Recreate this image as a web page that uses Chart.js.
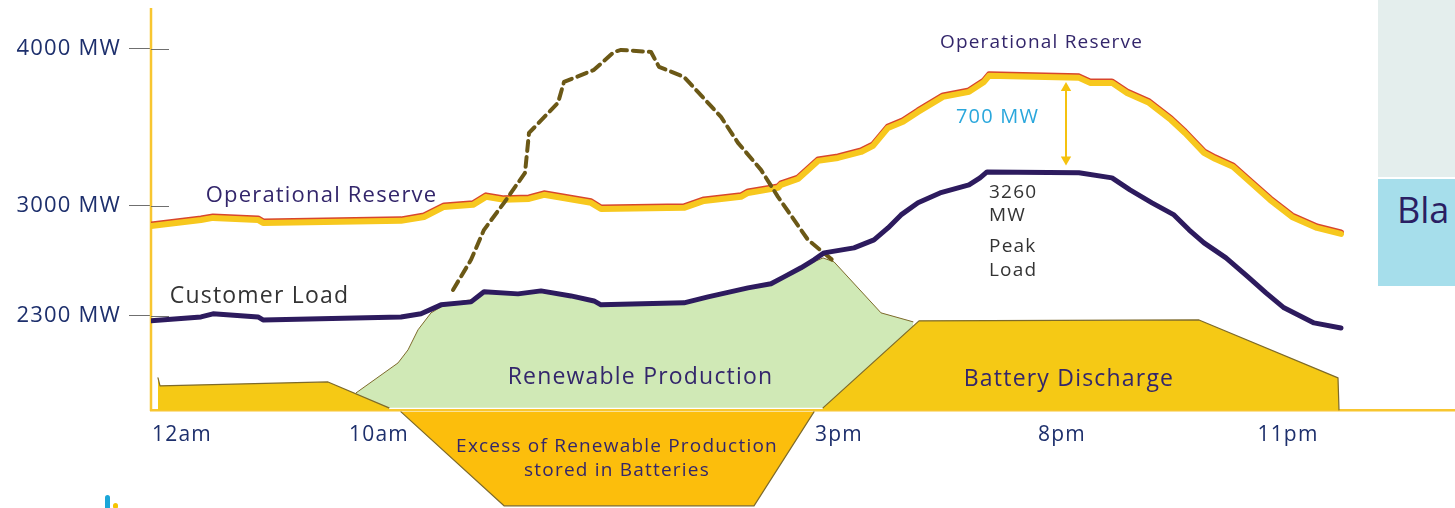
<!DOCTYPE html>
<html>
<head>
<meta charset="utf-8">
<title>Customer load, renewables and batteries</title>
<script src="https://cdn.jsdelivr.net/npm/chart.js@4.4.1/dist/chart.umd.min.js"></script>
<style>
  html, body { margin: 0; padding: 0; background: #fff; }
  #wrap { position: relative; width: 1455px; height: 508px; overflow: hidden; }
  #chart { position: absolute; left: 0; top: 0; }
  .side { position: absolute; left: 1378px; width: 77px; }
  .side span { position: absolute; left: 19px; top: 6px; font: 36px 'Open Sans', sans-serif; color: #2a1f63; }
  .logo { position: absolute; border-radius: 3px; }
</style>
</head>
<body>
<div id="wrap">
  <canvas id="chart" width="1455" height="508"></canvas>
  <div class="side" style="top:0;height:177px;background:#e4eeed"></div>
  <div class="side" style="top:179px;height:107px;background:#a6deeb"><span>Bla</span></div>
  <div class="logo" style="left:105px;top:495px;width:5px;height:16px;background:#1ba6d8"></div>
  <div class="logo" style="left:113px;top:503px;width:5px;height:6px;background:#f5c400"></div>
</div>
<script>
/* ---- data: t = position along the day (drawing units), values in MW ---- */
var timeLabels = ["12am", "10am", "3pm", "8pm", "11pm"];
var timeTicks = [3.1, 22.8, 68.8, 91.1, 113.7];
var mwTicks = [4000, 3000, 2300];
var BASELINE = 1700;

var reserve = [[0, 2872], [5, 2910], [6.2, 2923], [10.7, 2910], [11.2, 2891], [25, 2904], [27.3, 2929],
  [29.3, 2993], [32.2, 3006], [33.5, 3057], [35.3, 3038], [37.8, 3044], [39.3, 3070], [44, 3019],
  [45, 2980], [53.3, 2987], [55.3, 3031], [59, 3057], [59.7, 3082], [62.7, 3114], [63, 3133],
  [64.7, 3171], [66.7, 3286], [68.7, 3305], [71, 3343], [72.2, 3382], [73.7, 3496], [75.2, 3535],
  [76.7, 3598], [79.2, 3694], [81.8, 3726], [83.3, 3789], [83.8, 3828], [92.8, 3815], [93.9, 3783],
  [96.1, 3783], [97.6, 3719], [99.8, 3656], [102, 3547], [103.4, 3464], [105.3, 3337], [106.4, 3299],
  [108.2, 3248], [110, 3146], [111.9, 3038], [114.1, 2929], [116.6, 2859], [119, 2821]];

var load = [[0, 2267], [5, 2292], [6.2, 2312], [10.7, 2292], [11.2, 2273], [25, 2292], [27, 2312],
  [29, 2369], [32, 2388], [33.3, 2452], [36.7, 2439], [39, 2458], [42, 2426], [44.3, 2394], [45, 2369],
  [53.3, 2382], [55.7, 2420], [59.7, 2477], [62, 2503], [63.3, 2547], [65, 2605], [66.3, 2656],
  [67.3, 2700], [70.3, 2732], [72.3, 2783], [73.7, 2859], [75, 2942], [76.7, 3019], [78.9, 3082],
  [81.8, 3133], [82.9, 3178], [83.6, 3216], [92.8, 3210], [96.1, 3178], [97.9, 3101], [100.1, 3019],
  [102.3, 2942], [103.8, 2847], [105.3, 2764], [107.5, 2668], [109.7, 2547], [111.5, 2445],
  [113.3, 2350], [116.3, 2254], [119, 2222]];

var solarPotential = [[30.2, 2464], [32, 2656], [33.3, 2847], [35.3, 3019], [37.4, 3210], [37.8, 3464],
  [40.7, 3656], [41.3, 3789], [44.3, 3866], [46.3, 3980], [47, 3993], [50, 3980], [50.8, 3885],
  [53.3, 3821], [57, 3566], [58.7, 3401], [61, 3229], [62.7, 3057], [65.7, 2783], [68.5, 2636]];

var renewable = [[20.5, 1808], [24.7, 1999], [25.7, 2082], [26.7, 2210], [28, 2318], [29.5, 2375],
  [32, 2401], [33.3, 2452], [36.7, 2439], [39, 2458], [42, 2426], [44.3, 2394], [45, 2369],
  [53.3, 2382], [55.7, 2420], [59.7, 2477], [62, 2503], [63.3, 2547], [65, 2605], [66.3, 2643],
  [67.2, 2668], [68.3, 2643], [73, 2318], [76.2, 2261]];

var nightBattery = [[0.7, 1904], [0.9, 1853], [17.7, 1878], [23.8, 1713]];
var batteryDischarge = [[67.2, 1713], [76.8, 2267], [104.8, 2273], [118.7, 1904], [118.8, 1700]];
var excessStored = [[25, 1687], [35.3, 1089], [60.3, 1089], [66.3, 1687]];

var gapT = 91.5, gapTop = 3750, gapBottom = 3295;

/* ---- styling ------------------------------------------------------------ */
var FONT = "'Open Sans', sans-serif";
var AXIS = "#f8c630", NAVY = "#1d2f6c", PURPLE = "#33266b", INK = "#333333";
var OUTLINE = "#7d6a2b";

var notes = [
  { text: "Operational Reserve", t: 17.05, mw: 3063, size: 22, color: PURPLE },
  { text: "Operational Reserve", t: 89.05, mw: 4041, size: 19, color: PURPLE },
  { text: "Customer Load", t: 10.85, mw: 2420, size: 23, color: INK },
  { text: "700 MW", t: 84.65, mw: 3566, size: 20, color: "#2aa7dc" },
  { text: "3260", t: 83.8, mw: 3082, size: 19, color: INK, align: "left" },
  { text: "MW", t: 83.8, mw: 2936, size: 19, color: INK, align: "left" },
  { text: "Peak", t: 83.8, mw: 2738, size: 19, color: INK, align: "left" },
  { text: "Load", t: 83.8, mw: 2585, size: 19, color: INK, align: "left" },
  { text: "Renewable Production", t: 48.95, mw: 1907, size: 23, color: PURPLE },
  { text: "Battery Discharge", t: 91.8, mw: 1891, size: 23, color: PURPLE },
  { text: "Excess of Renewable Production", t: 46.6, mw: 1464, size: 19, color: PURPLE },
  { text: "stored in Batteries", t: 46.6, mw: 1315, size: 19, color: PURPLE }
];

function pts(arr) { return arr.map(function (p) { return { x: p[0], y: p[1] }; }); }

/* yellow y axis line that stops at the baseline, inner tick stubs, text notes */
var axisDecor = {
  id: "axisDecor",
  beforeDraw: function (chart) { chart.ctx.letterSpacing = "1.2px"; },
  beforeDatasetsDraw: function (chart) {
    var ctx = chart.ctx, a = chart.chartArea, y = chart.scales.y;
    ctx.save();
    ctx.strokeStyle = AXIS; ctx.lineWidth = 2.5;
    ctx.beginPath(); ctx.moveTo(a.left, a.top); ctx.lineTo(a.left, y.getPixelForValue(BASELINE) + 1); ctx.stroke();
    ctx.strokeStyle = "#6f6f6f"; ctx.lineWidth = 1;
    mwTicks.forEach(function (v) {
      var py = Math.round(y.getPixelForValue(v)) + 0.5;
      ctx.beginPath(); ctx.moveTo(a.left, py); ctx.lineTo(a.left + 18, py); ctx.stroke();
    });
    ctx.restore();
  },
  /* thin red rim on top of the reserve line */
  beforeDatasetDraw: function (chart, args) {
    if (chart.data.datasets[args.index].label !== "Operational Reserve") return;
    var ctx = chart.ctx;
    ctx.save();
    ctx.shadowColor = "#d8462c"; ctx.shadowOffsetY = -1.5; ctx.shadowBlur = 0;
  },
  afterDatasetDraw: function (chart, args) {
    if (chart.data.datasets[args.index].label !== "Operational Reserve") return;
    chart.ctx.restore();
  },
  afterDatasetsDraw: function (chart) {
    var ctx = chart.ctx, x = chart.scales.x, y = chart.scales.y;
    ctx.save();
    ctx.textBaseline = "middle";
    notes.forEach(function (n) {
      ctx.font = n.size + "px " + FONT;
      ctx.fillStyle = n.color;
      ctx.textAlign = n.align || "center";
      ctx.fillText(n.text, x.getPixelForValue(n.t), y.getPixelForValue(n.mw));
    });
    ctx.restore();
  }
};

new Chart(document.getElementById("chart"), {
  type: "line",
  data: {
    datasets: [
      { label: "Customer Load", data: pts(load), borderColor: "#2d1b5e", borderWidth: 5 },
      { label: "Renewable potential", data: pts(solarPotential), borderColor: "#6b5816", borderWidth: 4, borderDash: [10, 6] },
      { label: "Gap", data: [{ x: gapT, y: gapTop }, { x: gapT, y: gapBottom }], borderColor: "#f5c20f", borderWidth: 2,
        pointStyle: "triangle", pointRadius: 6, pointRotation: [0, 180], pointBackgroundColor: "#f5c20f", pointBorderWidth: 0 },
      { label: "Operational Reserve", data: pts(reserve), borderColor: "#f7c81e", borderWidth: 6 },
      { label: "Night battery", data: pts(nightBattery), borderColor: OUTLINE, borderWidth: 1.2, backgroundColor: "#f5c915", fill: { value: BASELINE } },
      { label: "Battery Discharge", data: pts(batteryDischarge), borderColor: OUTLINE, borderWidth: 1.2, backgroundColor: "#f5c915", fill: { value: BASELINE } },
      { label: "Excess stored", data: pts(excessStored), borderColor: OUTLINE, borderWidth: 1.2, backgroundColor: "#fcbe0c", fill: { value: 1687 } },
      { label: "Renewable Production", data: pts(renewable), borderColor: OUTLINE, borderWidth: 1, backgroundColor: "#d0e9b6", fill: { value: 1713 } }
    ]
  },
  options: {
    responsive: false,
    animation: false,
    layout: { autoPadding: false, padding: { top: 8, right: 0, bottom: 0, left: 0 } },
    elements: { point: { radius: 0 }, line: { tension: 0, borderCapStyle: "round", borderJoinStyle: "round" } },
    plugins: { legend: { display: false }, tooltip: { enabled: false } },
    scales: {
      x: {
        type: "linear", min: 0, max: 130.4,
        position: { y: BASELINE },
        afterBuildTicks: function (s) { s.ticks = timeTicks.map(function (v) { return { value: v }; }); },
        afterFit: function (s) { s.height = 0; s.paddingTop = 0; s.paddingBottom = 0; },
        ticks: {
          autoSkip: false, maxRotation: 0, padding: 13, color: NAVY,
          font: { family: FONT, size: 21 },
          callback: function (v) { var i = timeTicks.indexOf(v); return i < 0 ? "" : timeLabels[i]; }
        },
        grid: { display: false, drawTicks: false },
        border: { color: AXIS, width: 2.5 }
      },
      y: {
        type: "linear", min: 1075, max: 4260,
        afterBuildTicks: function (s) { s.ticks = mwTicks.map(function (v) { return { value: v }; }); },
        afterFit: function (s) { s.width = 151; s.paddingTop = 0; s.paddingBottom = 0; },
        ticks: {
          padding: 8, color: NAVY,
          font: { family: FONT, size: 22 },
          callback: function (v) { return v + " MW"; }
        },
        grid: { drawOnChartArea: false, tickLength: 22, color: "#6f6f6f" },
        border: { display: false }
      }
    }
  },
  plugins: [axisDecor]
});
</script>
</body>
</html>
